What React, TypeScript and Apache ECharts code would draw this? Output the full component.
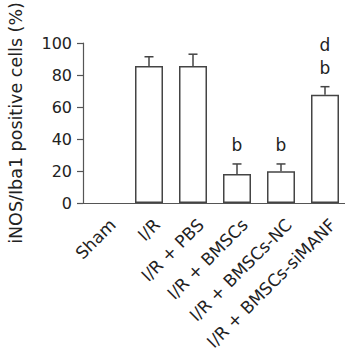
import React, { useEffect, useRef } from "react";
import * as echarts from "echarts";

const categories = ["Sham", "I/R", "I/R + PBS", "I/R + BMSCs", "I/R + BMSCs-NC", "I/R + BMSCs-siMANF"];
const means = [0, 85.6, 85.6, 18.1, 19.8, 67.7];
const errorTops = [0, 91.4, 93, 24.4, 24.4, 72.7];
const annotations = ["", "", "", "b", "b", "d\nb"];
const yTicks = { min: 0, max: 100, interval: 20 };
const yTitle = "iNOS/Iba1 positive cells (%)";

const FONT = "DejaVu Sans";

export default function App() {
  const ref = useRef<HTMLDivElement>(null);
  useEffect(() => {
    if (!ref.current) return;
    const chart = echarts.init(ref.current, undefined, { renderer: "svg" });
    chart.setOption({
      animation: false,
      grid: { left: 83, top: 43, bottom: 151, width: 264, outerBoundsMode: "none", containLabel: false },
      xAxis: {
        type: "category",
        data: categories,
        axisLine: { lineStyle: { color: "#555", width: 1.2 } },
        axisTick: { alignWithLabel: true, length: 8, lineStyle: { color: "#555", width: 1.2 } },
        axisLabel: {
          rotate: 45,
          interval: 0,
          margin: 11,
          verticalAlign: "top",
          lineHeight: 22,
          fontFamily: FONT,
          fontSize: 17,
          color: "#222",
        },
      },
      yAxis: {
        type: "value",
        min: yTicks.min,
        max: yTicks.max,
        interval: yTicks.interval,
        name: yTitle,
        nameLocation: "middle",
        nameGap: 58,
        nameTextStyle: { fontFamily: FONT, fontSize: 17.5, color: "#222" },
        splitLine: { show: false },
        axisLine: { show: true, lineStyle: { color: "#555", width: 1.2 } },
        axisTick: { show: true, length: 6, lineStyle: { color: "#555", width: 1.2 } },
        axisLabel: { fontFamily: FONT, fontSize: 16, color: "#222", margin: 11 },
      },
      series: [
        {
          type: "bar",
          data: means.map((v) =>
            v === 0 ? { value: v, itemStyle: { borderWidth: 0 } } : v
          ),
          barWidth: 28,
          itemStyle: { color: "#fff", borderColor: "#444", borderWidth: 1.5 },
          z: 3,
        },
        {
          type: "custom",
          z: 4,
          data: categories.map((_, i) => [i, means[i], errorTops[i]]),
          renderItem: (params: any, api: any) => {
            const i = api.value(0);
            const m = api.value(1);
            const t = api.value(2);
            const base = api.coord([i, m]);
            const top = api.coord([i, t]);
            const children: any[] = [];
            if (t > m) {
              children.push({
                type: "line",
                shape: { x1: base[0], y1: base[1], x2: top[0], y2: top[1] },
                style: { stroke: "#444", lineWidth: 1.5 },
              });
              children.push({
                type: "line",
                shape: { x1: top[0] - 4.5, y1: top[1], x2: top[0] + 4.5, y2: top[1] },
                style: { stroke: "#444", lineWidth: 1.5 },
              });
            }
            const ann = annotations[params.dataIndex];
            if (ann) {
              children.push({
                type: "text",
                style: {
                  x: top[0],
                  y: top[1] - 7,
                  text: ann,
                  textAlign: "center",
                  textVerticalAlign: "bottom",
                  fontFamily: FONT,
                  fontSize: 17,
                  lineHeight: 23,
                  fill: "#222",
                },
              });
            }
            return { type: "group", children };
          },
        },
      ],
    });
    return () => chart.dispose();
  }, []);
  return (
    <div
      ref={ref}
      style={{ position: "fixed", left: 0, top: 0, width: 345, height: 354, background: "#fff" }}
    />
  );
}
